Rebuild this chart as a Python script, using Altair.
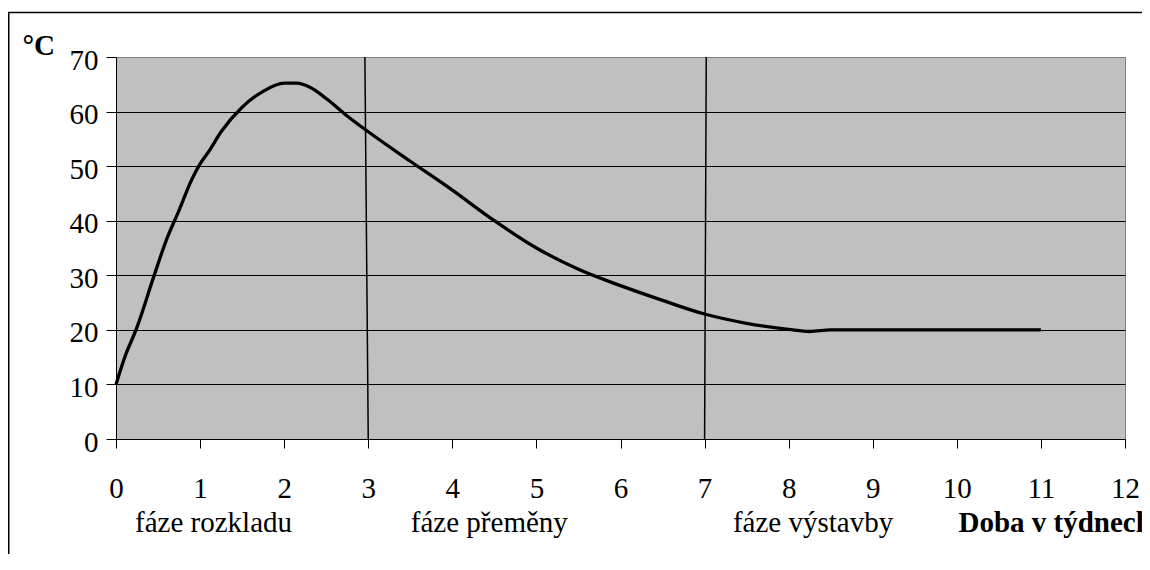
import altair as alt
import pandas as pd

# Curve: temperature (°C) over time (weeks)
weeks = [0, 0.1, 0.25, 0.45, 0.6, 0.75, 0.9, 1.0, 1.1, 1.25, 1.5, 1.75, 2.0, 2.15,
         2.3, 2.5, 2.75, 3.0, 3.5, 4.0, 4.5, 5.0, 5.5, 6.0, 6.5, 7.0, 7.5, 8.0,
         8.25, 8.5, 9.0, 10.0, 11.0]
temps = [10, 14.8, 20.5, 29.8, 36.5, 41.9, 47.5, 50.4, 52.6, 56.3, 60.8, 63.7, 65.2, 65.2,
         64.5, 62.4, 59.2, 56.3, 50.9, 45.6, 40.0, 35.0, 31.1, 28.1, 25.4, 22.9, 21.2, 20.1,
         19.7, 20, 20, 20, 20]

# Phase boundary lines (x at top of plot, x at bottom of plot)
phase_top_x = [2.96, 7.02]
phase_bottom_x = [3.0, 7.0]

# Phase labels
phase_names = ["fáze rozkladu", "fáze přeměny", "fáze výstavby"]
phase_label_x = [1.16, 4.44, 8.29]

x_ticks = list(range(0, 13))
y_ticks = list(range(0, 71, 10))

FONT = "'Liberation Serif', 'Times New Roman', Times, 'DejaVu Serif', serif"
FS = 29

curve_df = pd.DataFrame({"t": weeks, "temp": temps})
phase_df = pd.DataFrame({"xt": phase_top_x, "xb": phase_bottom_x})
label_df = pd.DataFrame({"name": phase_names, "x": phase_label_x})
frame_df = pd.DataFrame({"k": [0]})

xscale = alt.Scale(domain=[0, 12], nice=False, zero=False)
yscale = alt.Scale(domain=[0, 70], nice=False)

xaxis = alt.Axis(values=x_ticks, format="d", grid=False, tickSize=9, tickColor="black",
                 domainColor="black", labelFont=FONT, labelFontSize=FS, labelColor="black",
                 labelBaseline="alphabetic", labelPadding=49, labelFlush=False,
                 title="Doba v týdnech", titleFont=FONT, titleFontSize=FS,
                 titleFontWeight="bold", titleColor="black", titleX=842, titleY=92.5,
                 titleAlign="left", titleBaseline="alphabetic", titleAngle=0)
yaxis = alt.Axis(values=y_ticks, grid=True,
                 gridColor=alt.condition("datum.value == 70", alt.value("#808080"), alt.value("black")),
                 gridWidth=1, tickSize=10, tickColor="black", domainColor="black",
                 labelFont=FONT, labelFontSize=FS, labelColor="black",
                 labelBaseline="alphabetic", labelOffset=12, labelPadding=8, labelFlush=False,
                 title="°C", titleFont=FONT, titleFontSize=FS, titleFontWeight="bold",
                 titleColor="black", titleAngle=0, titleX=-94, titleY=-3,
                 titleAlign="left", titleBaseline="alphabetic")

curve = alt.Chart(curve_df).mark_line(color="black", strokeWidth=3.3, interpolate="monotone").encode(
    x=alt.X("t:Q", scale=xscale, axis=xaxis),
    y=alt.Y("temp:Q", scale=yscale, axis=yaxis),
)

phases = alt.Chart(phase_df).mark_rule(color="black", strokeWidth=1.5).encode(
    x=alt.X("xt:Q", scale=xscale),
    x2="xb:Q",
    y=alt.datum(70),
    y2=alt.datum(0),
)

labels = alt.Chart(label_df).mark_text(font=FONT, fontSize=FS, color="black",
                                        align="center", baseline="alphabetic").encode(
    x=alt.X("x:Q", scale=xscale),
    y=alt.value(475),
    text="name:N",
)

frame = alt.Chart(frame_df).mark_rect(fillOpacity=0, stroke="black", strokeWidth=1.5).encode(
    x=alt.value(-107.25), x2=alt.value(1300),
    y=alt.value(-44.5), y2=alt.value(700),
)

chart = alt.layer(frame, curve, phases, labels).properties(
    width=1009, height=382,
    autosize=alt.AutoSizeParams(type="none"),
    padding={"left": 108, "top": 49, "right": 17, "bottom": 115},
    background="white",
).configure_view(fill="#C0C0C0", stroke="#808080", strokeWidth=1)

chart.save("out.html", embed_options={"renderer": "svg", "actions": False})
